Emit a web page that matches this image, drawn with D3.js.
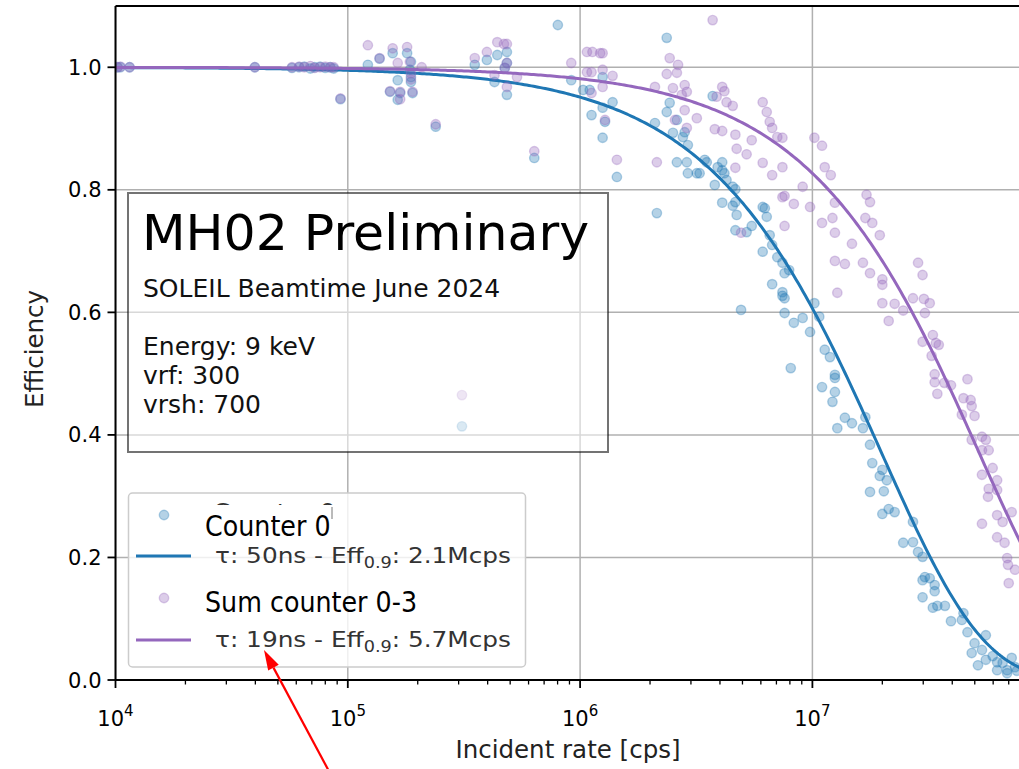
<!DOCTYPE html>
<html>
<head>
<meta charset="utf-8">
<script src="https://cdn.jsdelivr.net/npm/d3@7"></script>
<style>
  body { margin: 0; background: #fff; }
  svg { display: block; }
  text { font-family: "DejaVu Sans", sans-serif; }
</style>
</head>
<body>
<svg id="chart" width="1019" height="769"></svg>
<script>
// ---- data -------------------------------------------------------------
const xMajorTicks = [1e4, 1e5, 1e6, 1e7];
const xTickExponents = ["4", "5", "6", "7"];
const yTicks = [0, 0.2, 0.4, 0.6, 0.8, 1.0];
const yTickLabels = ["0.0", "0.2", "0.4", "0.6", "0.8", "1.0"];

const seriesNames = ["Counter 0", "Sum counter 0-3"];
const seriesColors = ["#1f77b4", "#9467bd"];
const fitTauNs = [50, 19];          // dead time of the paralyzable fit
const fitEff09Mcps = [2.1, 5.7];    // rate at which efficiency drops to 0.9

// [incident rate (cps), efficiency]
const counter0 = [
  [1.02e4,1.0],[1.05e4,1.0],[1.15e4,1.0],[3.98e4,1.0],[5.75e4,0.999],[6.17e4,1.0],[6.5e4,1.001],
  [6.9e4,0.998],[7.2e4,1.0],[7.6e4,1.001],[8.0e4,0.999],[8.4e4,1.0],[8.7e4,0.998],[9.3e4,0.948],
  [1.22e5,1.004],[1.37e5,1.014],[1.56e5,1.023],[1.80e5,1.023],[1.85e5,0.996],[1.87e5,0.984],
  [1.87e5,1.009],[1.64e5,0.979],[1.52e5,0.96],[1.68e5,0.958],[1.64e5,0.947],[1.90e5,0.958],
  [1.87e5,0.976],[2.39e5,0.903],[3.10e5,0.414],[3.52e5,1.004],[3.97e5,1.012],[4.40e5,1.02],
  [4.84e5,1.025],[4.84e5,1.007],[4.28e5,0.976],[4.74e5,0.999],[4.84e5,0.955],[6.35e5,0.852],
  [8.02e5,1.069],[9.16e5,0.979],
  [1.03e6,0.963],[1.10e6,0.963],[1.25e6,0.984],[1.12e6,0.922],[1.25e6,0.934],[1.28e6,0.911],
  [1.25e6,0.885],[1.38e6,0.943],[1.44e6,0.821],
  [2.14e6,0.762],[2.10e6,0.909],[2.36e6,1.048],[2.43e6,0.942],[2.36e6,0.927],[2.61e6,0.914],
  [2.51e6,0.893],[2.77e6,0.886],[2.91e6,0.873],[2.82e6,0.894],[2.61e6,0.845],[2.88e6,0.845],
  [2.91e6,0.827],[3.18e6,0.827],[3.51e6,0.845],[3.72e6,0.953],[3.91e6,0.837],[4.09e6,0.845],
  [4.18e6,0.827],[3.80e6,0.808],[4.54e6,0.805],[4.09e6,0.779],[4.66e6,0.780],[6.11e6,0.772],
  [3.27e6,0.827],[3.44e6,0.849],[4.09e6,0.832],[4.27e6,0.816],[4.66e6,0.801],[4.54e6,0.774],
  [4.72e6,0.759],[6.24e6,0.770],[6.36e6,0.756],[4.66e6,0.734],[5.21e6,0.731],[5.48e6,0.741],
  [6.55e6,0.726],[6.71e6,0.710],[6.11e6,0.699],[7.06e6,0.690],[7.43e6,0.681],[7.59e6,0.664],
  [7.94e6,0.669],[6.71e6,0.646],[7.43e6,0.633],[7.43e6,0.627],[4.93e6,0.604],[7.59e6,0.599],
  [1.02e7,0.615],[1.07e7,0.593],[9.08e6,0.591],
  [7.59e6,0.623],[8.32e6,0.583],[9.77e6,0.568],[1.13e7,0.539],[1.19e7,0.527],[8.07e6,0.509],
  [1.25e7,0.498],[1.25e7,0.493],[1.10e7,0.478],[1.25e7,0.470],[1.22e7,0.454],[1.38e7,0.428],
  [1.48e7,0.419],[1.69e7,0.429],[1.65e7,0.411],[1.28e7,0.411],[1.77e7,0.384],[1.81e7,0.354],
  [1.95e7,0.333],[2.00e7,0.343],[2.09e7,0.326],[1.77e7,0.307],[2.03e7,0.308],
  [2.00e7,0.271],[2.13e7,0.279],[2.26e7,0.274],[2.71e7,0.258],[2.46e7,0.224],[2.71e7,0.225],
  [2.85e7,0.209],[2.98e7,0.201],[3.05e7,0.168],[2.98e7,0.163],[3.20e7,0.166],[3.36e7,0.155],
  [3.36e7,0.145],[2.98e7,0.135],[3.30e7,0.118],[3.45e7,0.121],[3.72e7,0.121],[3.95e7,0.096],
  [4.47e7,0.109],[4.40e7,0.098],[4.65e7,0.078],[4.99e7,0.060],[5.58e7,0.073],[4.85e7,0.044],
  [5.37e7,0.049],[5.58e7,0.033],[5.97e7,0.039],[6.24e7,0.029],[6.24e7,0.016],[6.89e7,0.016],
  [7.21e7,0.036],[7.45e7,0.021],[5.16e7,0.024],[6.59e7,0.028],[6.89e7,0.011],[7.6e7,0.015]
];

const sumCounter = [
  [1.02e4,1.0],[1.05e4,1.001],[1.15e4,1.0],[3.98e4,1.0],[5.75e4,1.0],[6.17e4,1.001],[6.5e4,1.0],
  [6.9e4,1.002],[7.2e4,0.999],[7.6e4,1.0],[8.0e4,1.001],[8.4e4,1.0],[8.7e4,1.0],[9.3e4,0.949],
  [1.22e5,1.036],[1.37e5,1.015],[1.56e5,1.031],[1.80e5,1.033],[1.85e5,1.009],[1.87e5,0.99],
  [1.64e5,1.007],[1.52e5,0.961],[1.68e5,0.96],[1.68e5,0.948],[1.90e5,0.96],[1.87e5,0.98],
  [2.08e5,1.0],[2.39e5,0.907],[3.10e5,0.465],[3.52e5,1.015],[3.97e5,1.025],[4.40e5,1.041],
  [4.70e5,1.038],[4.84e5,1.038],[4.84e5,1.007],[4.84e5,0.968],[4.28e5,0.987],[4.74e5,0.999],
  [5.35e5,0.984],[6.35e5,0.863],[9.16e5,1.007],
  [1.07e6,1.025],[1.13e6,1.025],[1.22e6,1.023],[1.25e6,1.023],[1.07e6,0.992],[1.12e6,0.992],
  [1.25e6,0.996],[1.38e6,0.986],[1.25e6,0.968],[1.12e6,0.958],[1.28e6,0.914],[1.44e6,0.849],
  [2.14e6,0.845],[2.43e6,1.015],[2.64e6,1.004],[2.61e6,0.991],[2.36e6,0.989],[2.10e6,0.968],
  [2.51e6,0.966],[2.82e6,0.971],[2.88e6,0.960],[2.74e6,0.955],[2.82e6,0.930],[3.18e6,0.917],
  [2.88e6,0.901],[2.56e6,0.914],[3.72e6,1.077],[4.09e6,0.968],[4.18e6,0.961],[4.27e6,0.943],
  [4.54e6,0.937],[3.87e6,0.952],[3.80e6,0.899],[4.09e6,0.896],[4.66e6,0.890],[5.48e6,0.881],
  [5.21e6,0.858],[6.11e6,0.844],[6.71e6,0.824],[6.11e6,0.943],[6.36e6,0.927],[6.55e6,0.911],
  [6.71e6,0.901],[7.06e6,0.886],[7.43e6,0.837],[7.43e6,0.788],[4.66e6,0.836],
  [7.43e6,0.885],[4.72e6,0.867],[1.02e7,0.885],[1.10e7,0.872],[1.13e7,0.837],[1.20e7,0.824],
  [9.08e6,0.805],[7.59e6,0.790],[8.32e6,0.777],[7.59e6,0.741],[9.77e6,0.772],[1.10e7,0.746],
  [1.22e7,0.754],[1.25e7,0.730],[1.25e7,0.779],[1.71e7,0.792],[1.77e7,0.780],[1.69e7,0.754],
  [1.81e7,0.746],[1.95e7,0.726],[1.48e7,0.712],[1.25e7,0.684],[1.38e7,0.679],[1.65e7,0.681],
  [1.77e7,0.664],[2.00e7,0.654],[2.00e7,0.645],[1.28e7,0.632],[2.00e7,0.615],[2.26e7,0.614],
  [2.46e7,0.603],[2.85e7,0.681],[2.98e7,0.661],[2.71e7,0.623],[3.02e7,0.622],[3.20e7,0.615],
  [3.05e7,0.599],[4.93e6,0.730],
  [2.13e7,0.586],[3.30e7,0.563],[3.40e7,0.550],[3.50e7,0.547],[2.98e7,0.552],[3.26e7,0.529],
  [3.36e7,0.499],[3.36e7,0.486],[3.70e7,0.485],[3.95e7,0.481],[3.45e7,0.467],[4.65e7,0.491],
  [4.47e7,0.460],[4.80e7,0.457],[4.85e7,0.447],[4.40e7,0.433],[4.99e7,0.431],[5.37e7,0.397],
  [5.58e7,0.392],[4.85e7,0.392],[5.37e7,0.375],[5.74e7,0.375],[5.97e7,0.346],[5.37e7,0.335],
  [6.24e7,0.326],[5.74e7,0.312],[6.24e7,0.310],[5.70e7,0.299],
  [5.37e7,0.255],[6.24e7,0.269],[6.59e7,0.258],[7.21e7,0.274],[6.24e7,0.233],[6.72e7,0.224],
  [6.89e7,0.199],[6.95e7,0.188],[7.45e7,0.180],[7.0e7,0.158]
];

const infoTitle = "MH02 Preliminary";
const infoSubtitle = "SOLEIL Beamtime June 2024";
const infoLines = ["Energy: 9 keV", "vrf: 300", "vrsh: 700"];

// ---- scales -----------------------------------------------------------
const svg = d3.select("#chart");
const x = d3.scaleLog().domain([1e4, 1e8]).range([115.5, 1044.7]);
const y = d3.scaleLinear().domain([0, 1.1]).range([680, 6]);
const [x0, x1] = x.range();
const [yBot, yTop] = y.range();

const defs = svg.append("defs");
defs.append("clipPath").attr("id", "plotClip")
  .append("rect").attr("x", x0).attr("y", yTop).attr("width", x1 - x0).attr("height", yBot - yTop);

const plot = svg.append("g").attr("clip-path", "url(#plotClip)");

// paralyzable dead-time model: eff = exp(-rate * tau)
const fitRates = d3.range(4, 8.0001, 0.01).map(e => Math.pow(10, e));
const fitLine = tauNs => fitRates.map(r => [r, Math.exp(-r * tauNs * 1e-9)]);
const line = d3.line().x(d => x(d[0])).y(d => y(d[1]));

function drawPoints(data, color) {
  plot.append("g").selectAll("circle").data(data).join("circle")
    .attr("cx", d => x(d[0])).attr("cy", d => y(d[1])).attr("r", 4.7)
    .attr("fill", color).attr("fill-opacity", 0.33)
    .attr("stroke", color).attr("stroke-opacity", 0.33).attr("stroke-width", 1.4);
}

// grid
const grid = plot.append("g").attr("stroke", "#b0b0b0").attr("stroke-width", 1.5);
grid.selectAll(".gx").data(xMajorTicks).join("line")
  .attr("x1", d => x(d)).attr("x2", d => x(d)).attr("y1", yBot).attr("y2", yTop);
grid.selectAll(".gy").data(yTicks).join("line")
  .attr("x1", x0).attr("x2", x1).attr("y1", d => y(d)).attr("y2", d => y(d));

const series = [counter0, sumCounter];
series.forEach((data, i) => {
  drawPoints(data, seriesColors[i]);
  plot.append("path").datum(fitLine(fitTauNs[i]))
    .attr("d", line).attr("fill", "none")
    .attr("stroke", seriesColors[i]).attr("stroke-width", 3);
});

// ---- axes -------------------------------------------------------------
const minorTicks = x.ticks().filter(v => !xMajorTicks.includes(v) && v < 1e8);
const axisG = svg.append("g").attr("stroke", "#000");
axisG.selectAll(".minor").data(minorTicks).join("line")
  .attr("x1", d => x(d)).attr("x2", d => x(d)).attr("y1", yBot).attr("y2", yBot + 4.5)
  .attr("stroke-width", 1.3);
axisG.selectAll(".majorx").data(xMajorTicks).join("line")
  .attr("x1", d => x(d)).attr("x2", d => x(d)).attr("y1", yBot).attr("y2", yBot + 8)
  .attr("stroke-width", 1.8);
axisG.selectAll(".majory").data(yTicks).join("line")
  .attr("x1", x0 - 8).attr("x2", x0).attr("y1", d => y(d)).attr("y2", d => y(d))
  .attr("stroke-width", 1.8);
// spines
axisG.append("line").attr("x1", x0).attr("x2", x0).attr("y1", yTop).attr("y2", yBot).attr("stroke-width", 2);
axisG.append("line").attr("x1", x0).attr("x2", x1).attr("y1", yBot).attr("y2", yBot).attr("stroke-width", 2);
axisG.append("line").attr("x1", x0).attr("x2", x1).attr("y1", yTop).attr("y2", yTop).attr("stroke-width", 2);

// tick labels
svg.append("g").selectAll("text").data(yTicks).join("text")
  .attr("x", x0 - 14).attr("y", d => y(d) + 7.5)
  .attr("text-anchor", "end").attr("font-size", 21).attr("fill", "#000")
  .text((d, i) => yTickLabels[i]);

const xl = svg.append("g").selectAll("text").data(xMajorTicks).join("text")
  .attr("x", d => x(d)).attr("y", 726)
  .attr("text-anchor", "middle").attr("font-size", 21).attr("fill", "#000");
xl.append("tspan").text("10");
xl.append("tspan").attr("dy", -10).attr("font-size", 15).text((d, i) => xTickExponents[i]);

svg.append("text").attr("x", 568).attr("y", 758).attr("text-anchor", "middle")
  .attr("font-size", 24.5).attr("fill", "#222").text("Incident rate [cps]");
svg.append("text").attr("transform", "translate(43,349) rotate(-90)")
  .attr("text-anchor", "middle").attr("font-size", 24.5).attr("fill", "#222").text("Efficiency");

// ---- info box -----------------------------------------------------------
const info = svg.append("g");
info.append("rect").attr("x", 128).attr("y", 193).attr("width", 480).attr("height", 259)
  .attr("fill", "#fff").attr("fill-opacity", 0.5)
  .attr("stroke", "#000").attr("stroke-opacity", 0.55).attr("stroke-width", 2);
info.append("text").attr("x", 142).attr("y", 250).attr("font-size", 50.5).text(infoTitle);
info.append("text").attr("x", 143).attr("y", 297).attr("font-size", 25).attr("fill", "#111").text(infoSubtitle);
info.selectAll(".il").data(infoLines).join("text")
  .attr("x", 143).attr("y", (d, i) => 355 + i * 29).attr("font-size", 25).attr("fill", "#111").text(d => d);

// ---- legend -----------------------------------------------------------
const leg = svg.append("g");
leg.append("rect").attr("x", 128.5).attr("y", 493).attr("width", 397).attr("height", 174).attr("rx", 4)
  .attr("fill", "#fff").attr("fill-opacity", 0.8).attr("stroke", "#ccc").attr("stroke-width", 1.5);

// tops of the original label peek out above the overlaid one
defs.append("clipPath").attr("id", "legRemnant")
  .append("rect").attr("x", 205).attr("y", 494).attr("width", 135).attr("height", 11);
leg.append("g").attr("clip-path", "url(#legRemnant)")
  .append("text").attr("transform", "translate(213,519) scale(1.18,1)")
  .attr("font-size", 21).attr("fill", "#333").text(seriesNames[0]);
leg.append("line").attr("x1", 332).attr("x2", 332).attr("y1", 507).attr("y2", 519)
  .attr("stroke", "#777").attr("stroke-width", 1);

const rowY = [[515, 536, 556, 563], [598, 612, 640, 647]];
seriesNames.forEach((name, i) => {
  const [my, ly, liney, ty] = rowY[i];
  leg.append("circle").attr("cx", 164).attr("cy", my).attr("r", 4.7)
    .attr("fill", seriesColors[i]).attr("fill-opacity", 0.33)
    .attr("stroke", seriesColors[i]).attr("stroke-opacity", 0.33).attr("stroke-width", 1.4);
  leg.append("text").attr("transform", `translate(205,${ly}) scale(0.875,1)`)
    .attr("font-family", "Lato, 'Open Sans', sans-serif").attr("font-size", 29).attr("fill", "#000")
    .text(name);
  leg.append("line").attr("x1", 136).attr("x2", 191).attr("y1", liney).attr("y2", liney)
    .attr("stroke", seriesColors[i]).attr("stroke-width", 3);
  const t = leg.append("text").attr("transform", `translate(215,${ty}) scale(1.18,1)`)
    .attr("font-size", 21).attr("fill", "#333");
  t.append("tspan").text(`τ: ${fitTauNs[i]}ns - Eff`);
  t.append("tspan").attr("dy", 5).attr("font-size", 15).text("0.9");
  t.append("tspan").attr("dy", -5).text(`: ${fitEff09Mcps[i]}Mcps`);
});

// ---- annotation arrow ---------------------------------------------------
const tip = [264, 650], tail = [331, 775];
const ang = Math.atan2(tip[1] - tail[1], tip[0] - tail[0]);
const headLen = 20, headW = 6;
const bx = tip[0] - headLen * Math.cos(ang), by = tip[1] - headLen * Math.sin(ang);
svg.append("line").attr("x1", tail[0]).attr("y1", tail[1]).attr("x2", bx).attr("y2", by)
  .attr("stroke", "#ff0000").attr("stroke-width", 2.2);
svg.append("path")
  .attr("d", `M${tip[0]},${tip[1]} L${bx + headW * Math.sin(ang)},${by - headW * Math.cos(ang)} L${bx - headW * Math.sin(ang)},${by + headW * Math.cos(ang)} Z`)
  .attr("fill", "#ff0000");
</script>
</body>
</html>
